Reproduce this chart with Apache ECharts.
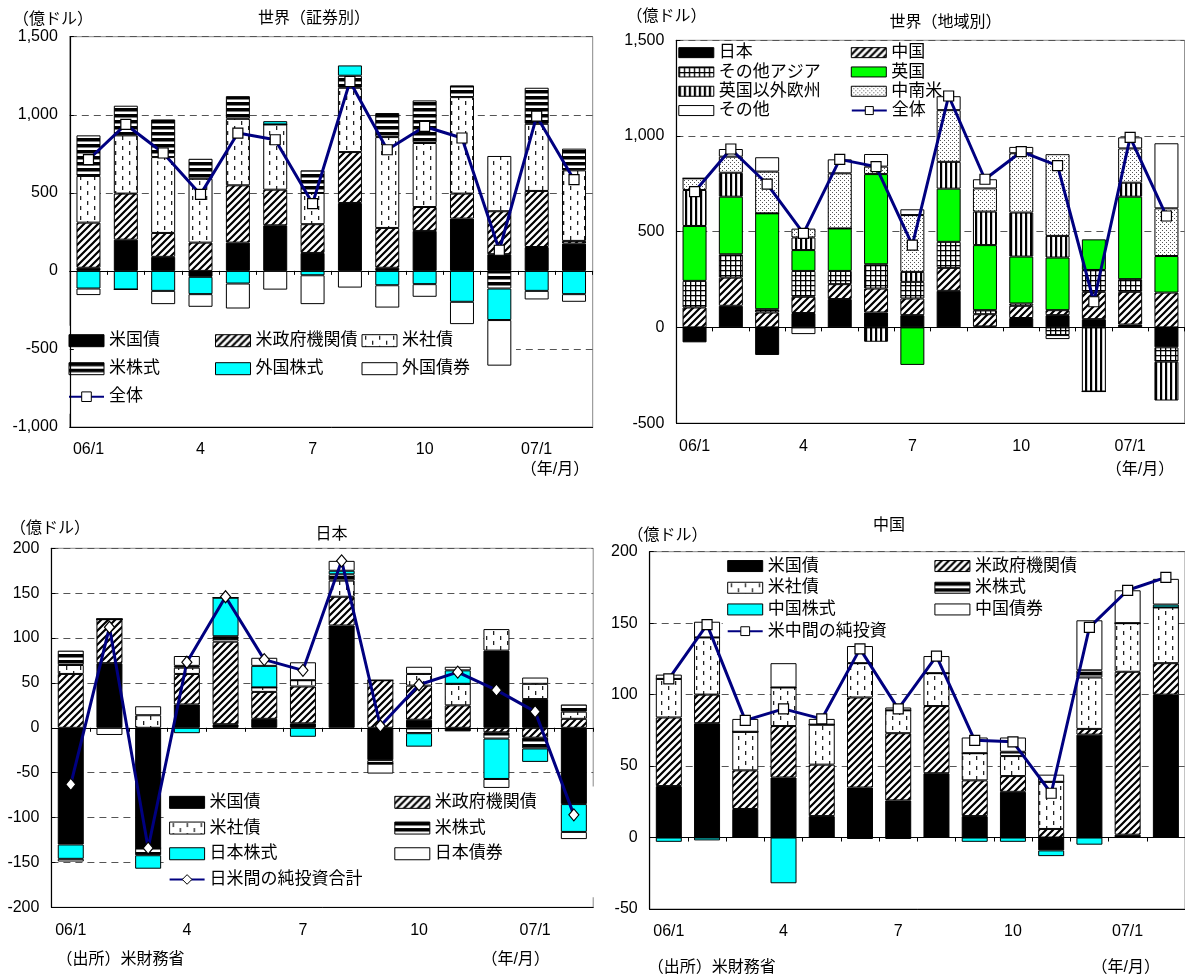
<!DOCTYPE html>
<html><head><meta charset="utf-8">
<script src="https://cdn.jsdelivr.net/npm/echarts@6/dist/echarts.min.js"></script>
<style>html,body{margin:0;padding:0;background:#fff}#c{width:1185px;height:975px}</style>
</head><body><div id="c"></div><script>
// ---------- data ----------
const months = ['06/1','2','3','4','5','6','7','8','9','10','11','12','07/1','2'];

// Panel 1: 世界（証券別）
const w1Treasury = [20, 200, 90, -38, 181, 292, 115, 435, 20, 256, 335, 107, 153, 175];
const w1Agency   = [289, 295, 153, 181, 367, 228, 184, 326, 255, 153, 160, 275, 359, 17];
const w1Corp     = [299, 373, 486, 409, 426, 418, 200, 412, 582, 410, 618, 354, 430, 452];
const w1Equity   = [260, 190, 241, 128, 145, 0, 145, 77, 154, 273, 75, -113, 231, 139];
const w1FStock   = [-113, -119, -128, -111, -81, 21, -28, 66, -92, -85, -198, -202, -128, -149];
const w1FBond    = [-42, 0, -85, -81, -160, -120, -185, -107, -143, -81, -143, -292, -55, -49];
const w1Total    = [712, 938, 755, 490, 883, 840, 431, 1213, 776, 925, 851, 132, 991, 584];

// Panel 2: 世界（地域別）
const rJapan = [-78, 113, -144, 75, 148, 78, 64, 191, 5, 49, 64, 43, 15, -104];
const rChina = [104, 147, 78, 85, 78, 125, 87, 120, 64, 64, 26, 143, 171, 182];
const rAsia  = [139, 122, 17, 135, 69, 127, 87, 136, 21, 12, -40, 114, 66, -75];
const rUK    = [287, 301, 501, 109, 222, 471, -196, 278, 340, 245, 275, 160, 431, 191];
const rEU    = [188, 125, 0, 66, 0, -75, 52, 140, 175, 230, 113, -335, 73, -203];
const rLatAm = [61, 84, 218, 46, 288, 39, 297, 270, 121, 310, 427, 0, 179, 249];
const rOther = [0, 40, 75, -35, 73, 66, 30, 73, 48, 33, -21, 0, 58, 340];
const rTotal = [709, 932, 749, 491, 878, 840, 430, 1209, 774, 918, 845, 134, 993, 582];

// Panel 3: 日本
const jTreasury = [-130, 72, -134, 26, 4, 10, 5, 114, -36, 9, -4, 86, 32, -85];
const jAgency   = [60, 49, 0, 34, 92, 30, 41, 32, 53, 38, 25, -5, -11, 10];
const jCorp     = [10, 0, 14, 7, 3, 5, 7, 18, 0, 13, 24, 24, 17, 8];
const jEquity   = [16, 0, -8, 2, 3, 0, 0, 7, -4, -6, 0, -7, -12, 8];
const jJStock   = [-16, 0, -15, -6, 43, 24, -10, 4, 0, -15, 15, -45, -15, -31];
const jJBond    = [-3, -8, 10, 11, 0, 9, 20, 11, -11, 8, 4, -10, 7, -8];
const jTotal    = [-63, 112, -134, 73, 146, 76, 64, 186, 2, 48, 62, 42, 18, -97];

// Panel 4: 中国
const cTreasury = [36, 80, 20, 42, 15, 35, 26, 45, 15, 32, -9, 72, 2, 100];
const cAgency   = [48, 20, 27, 36, 36, 63, 47, 47, 25, 11, 6, 4, 114, 22];
const cCorp     = [27, 40, 27, 27, 28, 24, 16, 23, 19, 14, 33, 36, 34, 39];
const cEquity   = [0, 0, 0, 0, 0, 0, 0, 0, 0, 3, 0, 5, 0, 0];
const cCStock   = [-3, -2, 0, -32, 0, -1, -1, 0, -3, -3, -4, -5, 0, 2];
const cCBond    = [3, 11, 9, 17, 4, 12, 2, 12, 11, 10, 5, 35, 23, 18];
const cTotal    = [111, 149, 82, 90, 83, 132, 90, 127, 68, 67, 31, 147, 173, 182];

// ---------- styles ----------
const FONT = "'Liberation Sans', 'Noto Sans CJK JP', sans-serif";
function pat(w, h, draw) {
  const c = document.createElement('canvas'); c.width = w; c.height = h;
  const g = c.getContext('2d');
  g.fillStyle = '#fff'; g.fillRect(0, 0, w, h);
  g.fillStyle = '#000'; g.strokeStyle = '#000';
  draw(g);
  return { image: c, repeat: 'repeat' };
}
const FILL = {
  black: '#000000', cyan: '#00ffff', green: '#00ff00', white: '#ffffff',
  hatch: pat(7, 7, g => { g.lineWidth = 2.2; g.beginPath(); for (const a of [-7, 0, 7]) { g.moveTo(a - 1, 8); g.lineTo(a + 8, -1); } g.stroke(); }),
  dash: pat(14, 10, g => { g.fillStyle = '#222'; g.fillRect(3, 1, 1.3, 4); g.fillRect(10, 6, 1.3, 4); }),
  hstripe: pat(4, 6, g => { g.fillRect(0, 0, 4, 3.5); }),
  vstripe: pat(5, 4, g => { g.fillRect(0, 0, 2.2, 4); }),
  grid: pat(5, 5, g => { g.fillRect(0, 0, 5, 1.3); g.fillRect(0, 0, 1.3, 5); }),
  dots: pat(4, 4, g => { g.fillStyle = '#555'; g.fillRect(0, 0, 1, 1); g.fillRect(2, 2, 1, 1); })
};

const panels = [
  { grid: { left: 69.8, top: 36.7, width: 522.9, height: 390.3 }, min: -1000, max: 1500, step: 500, barWidth: 24,
    bars: [['米国債', w1Treasury, 'black'], ['米政府機関債', w1Agency, 'hatch'], ['米社債', w1Corp, 'dash'],
           ['米株式', w1Equity, 'hstripe'], ['外国株式', w1FStock, 'cyan'], ['外国債券', w1FBond, 'white']],
    line: ['全体', w1Total, 'rect', 10],
    legend: { left: 66, top: 325.7, width: 470, itemHeight: 12, itemGap: 2, padding: [2, 10, 4, 2], bg: true,
              textWidth: 104, lineHeight: 26 } },
  { grid: { left: 676.4, top: 40.3, width: 508.2, height: 382.8 }, min: -500, max: 1500, step: 500, barWidth: 24,
    bars: [['日本', rJapan, 'black'], ['中国', rChina, 'hatch'], ['その他アジア', rAsia, 'grid'], ['英国', rUK, 'green'],
           ['英国以外欧州', rEU, 'vstripe'], ['中南米', rLatAm, 'dots'], ['その他', rOther, 'white']],
    line: ['全体', rTotal, 'rect', 10],
    legend: { left: 678.3, top: 44, width: 350, itemHeight: 10, itemGap: 2, padding: 0, bg: false,
              textWidth: 130, lineHeight: 17.3 } },
  { grid: { left: 51.4, top: 548.3, width: 541.8, height: 359 }, min: -200, max: 200, step: 50, barWidth: 26,
    bars: [['米国債', jTreasury, 'black'], ['米政府機関債', jAgency, 'hatch'], ['米社債', jCorp, 'dash'],
           ['米株式', jEquity, 'hstripe'], ['日本株式', jJStock, 'cyan'], ['日本債券', jJBond, 'white']],
    line: ['日米間の純投資合計', jTotal, 'diamond', [10, 12]],
    legend: { left: 163.6, top: 786.5, width: 460, itemHeight: 12, itemGap: 2, padding: [4, 0, 6, 5], bg: true,
              textWidth: 182.7, lineHeight: 23.7 } },
  { grid: { left: 649.7, top: 551.7, width: 540.4, height: 357.3 }, min: -50, max: 200, step: 50, barWidth: 26,
    bars: [['米国債', cTreasury, 'black'], ['米政府機関債', cAgency, 'hatch'], ['米社債', cCorp, 'dash'],
           ['米株式', cEquity, 'hstripe'], ['中国株式', cCStock, 'cyan'], ['中国債券', cCBond, 'white']],
    line: ['米中間の純投資', cTotal, 'rect', 10],
    legend: { left: 722.7, top: 554.2, width: 430, itemHeight: 11, itemGap: 2, padding: [2, 4, 2, 4], bg: true,
              textWidth: 164.7, lineHeight: 19.7 } }
];

const texts = [
  ['（億ドル）', 53, 20, 'center'], ['世界（証券別）', 314, 19, 'center'], ['（年/月）', 555, 470, 'center'],
  ['（億ドル）', 666.5, 17, 'center'], ['世界（地域別）', 945.5, 23, 'center'], ['（年/月）', 1140, 470, 'center'],
  ['（億ドル）', 50, 528.3, 'center'], ['日本', 331.5, 535, 'center'], ['（出所）米財務省', 56.5, 960, 'left'], ['（年/月）', 515.6, 960, 'center'],
  ['（億ドル）', 667.5, 536, 'center'], ['中国', 889, 526, 'center'], ['（出所）米財務省', 647.7, 968, 'left'], ['（年/月）', 1125.7, 968, 'center']
];

// ---------- option ----------
const option = { animation: false, backgroundColor: '#fff', grid: [], xAxis: [], yAxis: [], series: [], legend: [], graphic: [] };
panels.forEach((p, i) => {
  option.grid.push(Object.assign({ show: true, borderColor: '#888', borderWidth: 1, backgroundColor: 'transparent' }, p.grid));
  const xi = option.xAxis.length;
  option.xAxis.push({ gridIndex: i, type: 'category', data: months, position: 'bottom',
    axisLine: { show: true, onZero: true, lineStyle: { color: '#000', width: 1 } },
    axisTick: { show: true, interval: 0, length: 4, lineStyle: { color: '#000' } },
    axisLabel: { show: false }, splitLine: { show: false } });
  option.xAxis.push({ gridIndex: i, type: 'category', data: months, position: 'bottom',
    axisLine: { show: true, onZero: false, lineStyle: { color: '#000', width: 1 } },
    axisTick: { show: false },
    axisLabel: { show: true, interval: 2, margin: 15, fontSize: 16, fontFamily: FONT, color: '#000' },
    splitLine: { show: false } });
  const yi = option.yAxis.length;
  option.yAxis.push({ gridIndex: i, type: 'value', min: p.min, max: p.max, interval: p.step,
    axisLine: { show: false }, axisTick: { show: false },
    axisLabel: { margin: 12, fontSize: 16, fontFamily: FONT, color: '#000', formatter: v => v.toLocaleString('en-US') },
    splitLine: { show: true, lineStyle: { color: '#555', type: [7, 5], width: 1 } }, z: 0 });
  option.yAxis.push({ gridIndex: i, type: 'value', min: p.min, max: p.max, interval: p.step, position: 'left',
    axisLine: { show: true, onZero: false, lineStyle: { color: '#000', width: 1.2 } },
    axisTick: { show: true, inside: true, length: 4, lineStyle: { color: '#000' } },
    axisLabel: { show: false }, splitLine: { show: false }, z: 6 });
  p.bars.forEach(([name, data, fill]) => {
    option.series.push({ type: 'bar', name, xAxisIndex: xi, yAxisIndex: yi, stack: 's' + i, data,
      barWidth: p.barWidth, itemStyle: { color: FILL[fill], borderColor: '#000', borderWidth: 1 },
      emphasis: { disabled: true }, z: 3 });
  });
  option.series.push({ type: 'line', name: p.line[0], xAxisIndex: xi, yAxisIndex: yi, data: p.line[1],
    symbol: p.line[2], symbolSize: p.line[3], showAllSymbol: true,
    lineStyle: { color: '#000080', width: 3 },
    itemStyle: { color: '#fff', borderColor: '#000', borderWidth: 1.2 },
    emphasis: { disabled: true }, z: 4 });
  const L = p.legend;
  option.legend.push({
    left: L.left, top: L.top, width: L.width, orient: 'horizontal', padding: L.padding,
    itemWidth: 35, itemHeight: L.itemHeight, itemGap: L.itemGap, selectedMode: false,
    backgroundColor: L.bg ? '#fff' : 'transparent', z: 1,
    itemStyle: { borderColor: '#000', borderWidth: 1 },
    textStyle: { fontSize: 17, fontFamily: FONT, color: '#000', width: L.textWidth, overflow: 'truncate', lineHeight: L.lineHeight },
    data: p.bars.map(b => ({ name: b[0], icon: 'rect' })).concat([{ name: p.line[0] }])
  });
});
texts.forEach(([t, x, y, a]) => {
  option.graphic.push({ type: 'text', x, y, z: 10,
    style: { text: t, fontSize: 16, fontFamily: FONT, fill: '#000', align: a, verticalAlign: 'middle' } });
});

const chart = echarts.init(document.getElementById('c'), null, { renderer: 'canvas' });
chart.setOption(option);
</script></body></html>
